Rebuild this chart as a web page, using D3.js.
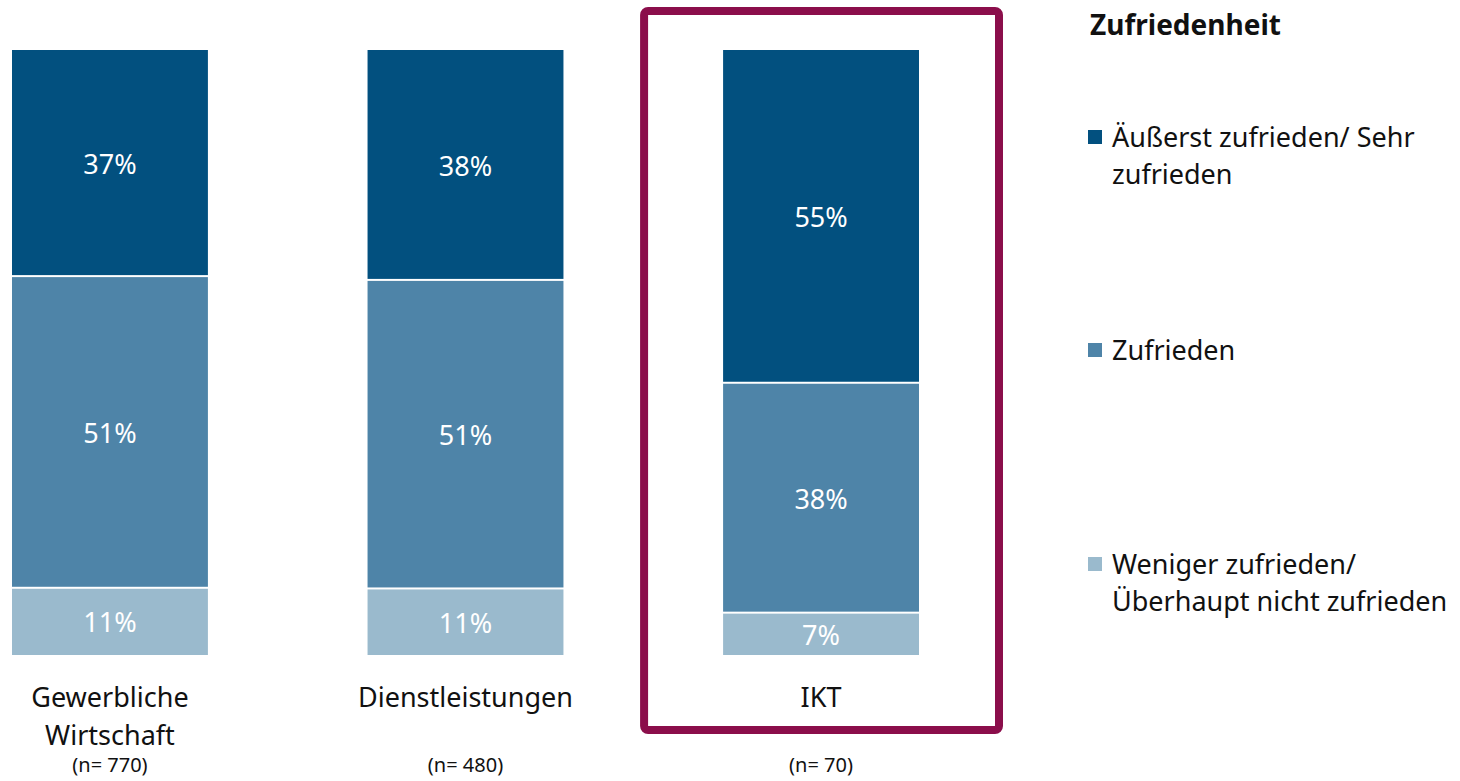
<!DOCTYPE html>
<html>
<head>
<meta charset="utf-8">
<script src="https://cdn.jsdelivr.net/npm/d3@7"></script>
<style>
  body { margin: 0; background: #fff; }
  svg text { font-family: "Noto Sans", "Open Sans", sans-serif; }
</style>
</head>
<body>
<div id="root"></div>
<script>
// Data
const categories = ["Gewerbliche Wirtschaft", "Dienstleistungen", "IKT"];
const sampleSizes = ["(n= 770)", "(n= 480)", "(n= 70)"];
const seriesNames = ["Äußerst zufrieden/ Sehr zufrieden", "Zufrieden", "Weniger zufrieden/ Überhaupt nicht zufrieden"];
const sehrZufrieden = [37, 38, 55];
const zufrieden = [51, 51, 38];
const wenigerZufrieden = [11, 11, 7];
const highlighted = "IKT";

const colors = ["#02507f", "#4e84a8", "#9abacd"];
const frameColor = "#8b0e4b";

const width = 1460, height = 781;

const svg = d3.select("#root")
    .append("svg")
    .attr("width", width)
    .attr("height", height);

// X scale
const x = d3.scaleBand()
    .domain(categories)
    .range([12, 919])
    .paddingInner(0.449)
    .paddingOuter(0);

// Y scale (share of the bar)
const y = d3.scaleLinear()
    .domain([0, 1])
    .range([655, 50]);

// build stacks bottom -> top
const series = [wenigerZufrieden, zufrieden, sehrZufrieden];
const seriesColors = [colors[2], colors[1], colors[0]];

const segments = [];
categories.forEach(function(c, i) {
    const total = series.reduce(function(s, arr) { return s + arr[i]; }, 0);
    let cum = 0;
    series.forEach(function(arr, k) {
        const v = arr[i];
        segments.push({
            cat: c,
            value: v,
            y0: cum / total,
            y1: (cum + v) / total,
            color: seriesColors[k],
            bottom: k === 0,
            top: k === series.length - 1
        });
        cum += v;
    });
});

// white gap between segments, split around the boundary
const half = 1;

svg.selectAll("rect.seg")
    .data(segments)
    .enter()
    .append("rect")
    .attr("class", "seg")
    .attr("x", function(d) { return x(d.cat); })
    .attr("width", x.bandwidth())
    .attr("y", function(d) { return y(d.y1) + (d.top ? 0 : half); })
    .attr("height", function(d) {
        return y(d.y0) - y(d.y1) - (d.top ? 0 : half) - (d.bottom ? 0 : half);
    })
    .attr("fill", function(d) { return d.color; });

svg.selectAll("text.val")
    .data(segments)
    .enter()
    .append("text")
    .attr("class", "val")
    .attr("x", function(d) { return x(d.cat) + x.bandwidth() / 2; })
    .attr("y", function(d) { return (y(d.y0) + y(d.y1)) / 2 + 11; })
    .attr("text-anchor", "middle")
    .attr("font-size", 27)
    .attr("fill", "#fff")
    .text(function(d) { return d.value + "%"; });

// Highlight frame
svg.append("rect")
    .attr("x", x(highlighted) - 79)
    .attr("y", 11)
    .attr("width", x.bandwidth() + 159)
    .attr("height", 719)
    .attr("rx", 4)
    .attr("fill", "none")
    .attr("stroke", frameColor)
    .attr("stroke-width", 8);

// Category labels
const catLines = {
    "Gewerbliche Wirtschaft": ["Gewerbliche", "Wirtschaft"],
    "Dienstleistungen": ["Dienstleistungen"],
    "IKT": ["IKT"]
};
categories.forEach(function(c, i) {
    const cx = x(c) + x.bandwidth() / 2;
    const t = svg.append("text")
        .attr("x", cx)
        .attr("y", 707)
        .attr("text-anchor", "middle")
        .attr("font-size", 27)
        .attr("fill", "#111");
    catLines[c].forEach(function(line, j) {
        t.append("tspan")
            .attr("x", cx)
            .attr("dy", j === 0 ? 0 : 38)
            .text(line);
    });
    svg.append("text")
        .attr("x", cx)
        .attr("y", 772)
        .attr("text-anchor", "middle")
        .attr("font-size", 20)
        .attr("fill", "#111")
        .text(sampleSizes[i]);
});

// Legend
const legend = svg.append("g");
legend.append("text")
    .attr("x", 1090)
    .attr("y", 35)
    .attr("font-size", 28)
    .attr("font-weight", "bold")
    .attr("fill", "#111")
    .text("Zufriedenheit");

const legendLines = [
    ["Äußerst zufrieden/ Sehr", "zufrieden"],
    ["Zufrieden"],
    ["Weniger zufrieden/", "Überhaupt nicht zufrieden"]
];
const legendY = [137, 350, 564];

seriesNames.forEach(function(name, i) {
    legend.append("rect")
        .attr("x", 1088)
        .attr("y", legendY[i] - 7)
        .attr("width", 14)
        .attr("height", 14)
        .attr("fill", colors[i]);
    const t = legend.append("text")
        .attr("x", 1112)
        .attr("y", legendY[i] + 10)
        .attr("font-size", 27)
        .attr("fill", "#111");
    legendLines[i].forEach(function(line, j) {
        t.append("tspan")
            .attr("x", 1112)
            .attr("dy", j === 0 ? 0 : 37)
            .text(line);
    });
});
</script>
</body>
</html>
